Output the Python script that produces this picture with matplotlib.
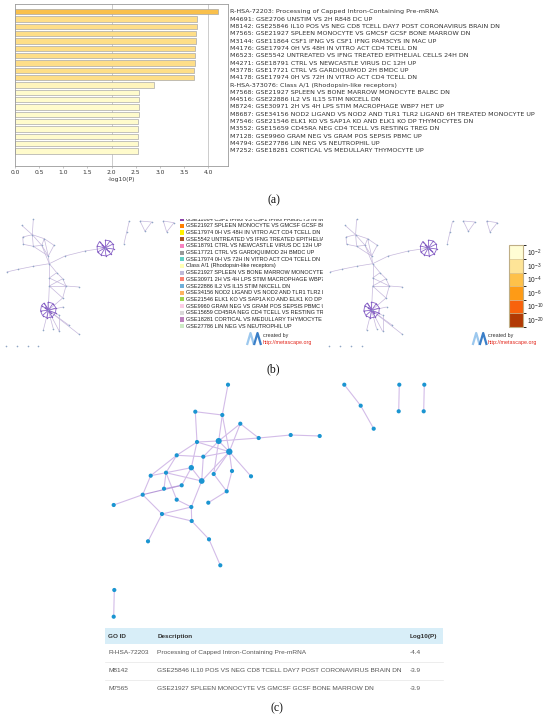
import matplotlib as mpl
import matplotlib.pyplot as plt
from matplotlib.collections import LineCollection
from matplotlib.colors import ListedColormap, BoundaryNorm
from matplotlib.patches import Rectangle
import numpy as np

plt.rcParams['mathtext.fontset'] = 'custom'
plt.rcParams['mathtext.rm'] = 'Liberation Sans'
plt.rcParams['mathtext.it'] = 'Liberation Sans:italic'
plt.rcParams['mathtext.bf'] = 'Liberation Sans:bold'

W, H = 550, 723  # figure size in pixels

# ---- (a) enriched terms ----
term_labels = [
    "R-HSA-72203: Processing of Capped Intron-Containing Pre-mRNA",
    "M4691: GSE2706 UNSTIM VS 2H R848 DC UP",
    "M8142: GSE25846 IL10 POS VS NEG CD8 TCELL DAY7 POST CORONAVIRUS BRAIN DN",
    "M7565: GSE21927 SPLEEN MONOCYTE VS GMCSF GCSF BONE MARROW DN",
    "M3144: GSE11864 CSF1 IFNG VS CSF1 IFNG PAM3CYS IN MAC UP",
    "M4176: GSE17974 0H VS 48H IN VITRO ACT CD4 TCELL DN",
    "M6523: GSE5542 UNTREATED VS IFNG TREATED EPITHELIAL CELLS 24H DN",
    "M4271: GSE18791 CTRL VS NEWCASTLE VIRUS DC 12H UP",
    "M3778: GSE17721 CTRL VS GARDIQUIMOD 2H BMDC UP",
    "M4178: GSE17974 0H VS 72H IN VITRO ACT CD4 TCELL DN",
    "R-HSA-373076: Class A/1 (Rhodopsin-like receptors)",
    "M7568: GSE21927 SPLEEN VS BONE MARROW MONOCYTE BALBC DN",
    "M4516: GSE22886 IL2 VS IL15 STIM NKCELL DN",
    "M8724: GSE30971 2H VS 4H LPS STIM MACROPHAGE WBP7 HET UP",
    "M8687: GSE34156 NOD2 LIGAND VS NOD2 AND TLR1 TLR2 LIGAND 6H TREATED MONOCYTE UP",
    "M7546: GSE21546 ELK1 KO VS SAP1A KO AND ELK1 KO DP THYMOCYTES DN",
    "M3552: GSE15659 CD45RA NEG CD4 TCELL VS RESTING TREG DN",
    "M7128: GSE9960 GRAM NEG VS GRAM POS SEPSIS PBMC UP",
    "M4794: GSE27786 LIN NEG VS NEUTROPHIL UP",
    "M7252: GSE18281 CORTICAL VS MEDULLARY THYMOCYTE UP",
]
term_values = [4.21, 3.76, 3.76, 3.75, 3.75, 3.73, 3.72, 3.72, 3.71, 3.71,
               2.87, 2.57, 2.57, 2.57, 2.56, 2.55, 2.55, 2.55, 2.55, 2.54]
term_colors = ['#F9C04C'] + ['#FEDE88'] * 9 + ['#FFF4BC'] + ['#FFFBCC'] * 9
x_ticks = [0.0, 0.5, 1.0, 1.5, 2.0, 2.5, 3.0, 3.5, 4.0]

# ---- (b) membership network (px coordinates of the layout) ----
netb_nodes = [
    (33.3, 219.3), (21.7, 225.3), (32.3, 234.7), (22.7, 237), (44.3, 238.7),
    (23.3, 244.3), (33.3, 246.3), (41.7, 245.3), (54, 245.3), (48.3, 256),
    (65, 256), (85, 251), (105, 248), (49.3, 263.7), (33.3, 266.3),
    (18.3, 269.3), (6.7, 272), (56.7, 272.7), (49.3, 278), (62.7, 278.7),
    (49.3, 286), (66, 286), (79, 287), (62.7, 298), (48.3, 310.3),
    (63.3, 307), (59.3, 315.3), (69, 325.3), (43.3, 330.3), (53.3, 328.7),
    (59.3, 331.3), (79, 334.3), (129.3, 221), (126.7, 232), (124, 243.7),
    (140, 221), (151.7, 222), (145, 231.3), (163.3, 221), (174, 222.7),
    (166.7, 232),
]
netb_edges = [
    (0, 2), (1, 2), (2, 3), (2, 4), (2, 6), (3, 5), (4, 7), (4, 8), (2, 7),
    (6, 7), (5, 6), (6, 9), (7, 9), (8, 9), (4, 9), (9, 13), (7, 13), (13, 10),
    (10, 11), (11, 12), (13, 14), (14, 15), (15, 16), (13, 17), (13, 18),
    (17, 18), (17, 19), (18, 20), (19, 20), (19, 21), (20, 21), (21, 22),
    (18, 21), (21, 23), (20, 23), (23, 24), (20, 24), (24, 25), (24, 26),
    (24, 27), (24, 28), (24, 29), (24, 30), (24, 31), (26, 30), (32, 33),
    (33, 34), (35, 36), (36, 37), (35, 37), (38, 39), (39, 40), (38, 40),
]
hub1_leaves = [(105, 240), (110, 241), (113, 244), (113.5, 249), (111, 254),
               (106, 256), (101, 255), (97.5, 252), (97, 246), (99.5, 241.5),
               (108.5, 251), (102, 245)]
hub2_leaves = [(48, 302), (53, 303.5), (56, 308), (55.5, 313), (52, 317),
               (47, 318), (42.5, 315.5), (40.5, 311), (41.5, 305.5), (44, 303),
               (51, 313), (45, 307.5)]
netb_loose = [(6, 345.5), (16.7, 345.5), (27.7, 345.5), (38.3, 345.5)]
netb_copies = [0, 323.3]

legend_labels = [
    "GSE11864 CSF1 IFNG VS CSF1 IFNG PAM3CYS IN MAC UP",
    "GSE21927 SPLEEN MONOCYTE VS GMCSF GCSF BONE MARROW DN",
    "GSE17974 0H VS 48H IN VITRO ACT CD4 TCELL DN",
    "GSE5542 UNTREATED VS IFNG TREATED EPITHELIAL CELLS 24H DN",
    "GSE18791 CTRL VS NEWCASTLE VIRUS DC 12H UP",
    "GSE17721 CTRL VS GARDIQUIMOD 2H BMDC UP",
    "GSE17974 0H VS 72H IN VITRO ACT CD4 TCELL DN",
    "Class A/1 (Rhodopsin-like receptors)",
    "GSE21927 SPLEEN VS BONE MARROW MONOCYTE BALBC DN",
    "GSE30971 2H VS 4H LPS STIM MACROPHAGE WBP7 HET UP",
    "GSE22886 IL2 VS IL15 STIM NKCELL DN",
    "GSE34156 NOD2 LIGAND VS NOD2 AND TLR1 TLR2 LIGAND 6H TREATED MONOCYTE UP",
    "GSE21546 ELK1 KO VS SAP1A KO AND ELK1 KO DP THYMOCYTES DN",
    "GSE9960 GRAM NEG VS GRAM POS SEPSIS PBMC UP",
    "GSE15659 CD45RA NEG CD4 TCELL VS RESTING TREG DN",
    "GSE18281 CORTICAL VS MEDULLARY THYMOCYTE UP",
    "GSE27786 LIN NEG VS NEUTROPHIL UP",
]
legend_colors = ['#8E44A8', '#FF7F00', '#FFF200', '#A65628', '#F781BF',
                 '#999999', '#5FD0C4', '#FFFFB3', '#BEBADA', '#FB8072',
                 '#6FAED8', '#FDB462', '#9ED34E', '#FCCDE5', '#D9D9D9',
                 '#BC80BD', '#CCEBC5']

pval_labels = ['$10^{-20}$', '$10^{-10}$', '$10^{-6}$', '$10^{-4}$', '$10^{-3}$', '$10^{-2}$']
pval_colors = ['#B23A04', '#F8620C', '#FE9B16', '#FEC14A', '#FEE497', '#FFFDD4']

# ---- (c) network of enriched terms ----
netc_nodes = [
    (228, 384.7), (195.3, 411.7), (222.3, 415), (240.3, 423.7), (197, 442),
    (218.7, 441), (258.7, 438), (290.7, 435), (319.7, 436), (229.3, 451.7),
    (176.7, 455.3), (203.3, 456.7), (191.3, 467.7), (232, 471), (150.7, 475.7),
    (166, 472.7), (213.7, 474), (251, 476.3), (201.7, 481), (181.7, 485.3),
    (164, 488.7), (226.7, 491.3), (142.7, 494.7), (176.7, 499.7), (208.3, 502.7),
    (113.7, 505), (191.3, 507), (162, 514), (191.7, 521), (148, 541.3),
    (209, 539.3), (220.3, 565.3), (114.3, 590), (113.7, 616.7),
    (344.3, 384.7), (360.7, 405.7), (373.7, 428.7),
    (399.3, 384.7), (398.7, 411.3), (424.3, 384.7), (423.7, 411.3),
]
netc_sizes = [9] * len(netc_nodes)
for k, s in [(5, 19), (9, 21), (12, 15), (18, 17)]:
    netc_sizes[k] = s
netc_edges = [
    (0, 2), (1, 2), (1, 4), (2, 5), (2, 9), (3, 6), (3, 9), (3, 5), (4, 5),
    (5, 6), (6, 7), (7, 8), (4, 10), (4, 9), (4, 12), (5, 11), (5, 9), (5, 16),
    (10, 11), (11, 9), (9, 13), (9, 16), (9, 18), (9, 17), (10, 14), (12, 15),
    (12, 18), (12, 19), (11, 18), (15, 18), (14, 22), (15, 20), (15, 23),
    (19, 20), (19, 22), (22, 25), (22, 27), (18, 26), (16, 21), (13, 21),
    (21, 24), (26, 27), (27, 28), (26, 28), (27, 29), (28, 30), (30, 31),
    (23, 26), (10, 15), (14, 15), (32, 33), (34, 35), (35, 36), (37, 38),
    (39, 40),
]

table_header = ["GO ID", "Description", "Log10(P)"]
table_ids = ["R-HSA-72203", "M8142", "M7565"]
table_desc = ["Processing of Capped Intron-Containing Pre-mRNA",
              "GSE25846 IL10 POS VS NEG CD8 TCELL DAY7 POST CORONAVIRUS BRAIN DN",
              "GSE21927 SPLEEN MONOCYTE VS GMCSF GCSF BONE MARROW DN"]
table_logp = ["-4.4", "-3.9", "-3.9"]


def px_box(x0, y0, x1, y1):
    return [x0 / W, 1 - y1 / H, (x1 - x0) / W, (y1 - y0) / H]


fig = plt.figure(figsize=(W / 100, H / 100), dpi=100)

# background canvas in pixel units
bg = fig.add_axes([0, 0, 1, 1])
bg.set_xlim(0, W)
bg.set_ylim(H, 0)
bg.axis('off')

# ---------------- (a) bar chart ----------------
ax = fig.add_axes(px_box(15, 4, 228, 166))
ypos = np.arange(len(term_values))
ax.barh(ypos, term_values, height=0.72, color=term_colors,
        edgecolor='#A9A9A9', linewidth=0.5, zorder=2)
for g in [2.0, 4.0]:
    ax.axvline(g, color='#C4C4C4', lw=0.6, zorder=1)
ax.set_ylim(21.05, -1.05)
ax.set_xlim(0, 4.41)
ax.set_yticks([])
ax.set_xticks(x_ticks)
ax.set_xticklabels([f"{t:.1f}" for t in x_ticks])
ax.tick_params(axis='x', labelsize=4.3, length=1.5, width=0.4, pad=1.5,
               color='#999999', labelcolor='#333333')
ax.set_xlabel("-log10(P)", fontsize=4.3, labelpad=1, color='#333333')
for sp in ax.spines.values():
    sp.set_color('#9A9A9A')
    sp.set_linewidth(0.6)
for i, lab in enumerate(term_labels):
    ax.text(1.01, i, lab, transform=ax.get_yaxis_transform(), fontsize=4.6,
            ha='left', va='center', color='#333333', clip_on=False)

bg.text(274, 200, "(a)", family='Liberation Serif', fontsize=8.5,
        ha='center', va='center', color='#111111')

# ---------------- (b) networks ----------------
for dx in netb_copies:
    pts = np.array(netb_nodes) + [dx, 0]
    segs = [[pts[a], pts[b]] for a, b in netb_edges]
    bg.add_collection(LineCollection(segs, colors='#C6B8DC', linewidths=0.5, zorder=2))
    spokes = []
    for hub, leaves in [(netb_nodes[12], hub1_leaves), (netb_nodes[24], hub2_leaves)]:
        hx, hy = hub[0] + dx, hub[1]
        lv = np.array(leaves) + [dx, 0]
        spokes += [[(hx, hy), tuple(p)] for p in lv]
        for j in range(len(lv) - 1):
            spokes.append([tuple(lv[j]), tuple(lv[j + 1])])
        bg.scatter(lv[:, 0], lv[:, 1], s=1.0, color='#7F5BBF', zorder=4, linewidths=0)
    bg.add_collection(LineCollection(spokes, colors='#8A63C8', linewidths=0.6, zorder=3))
    bg.scatter(pts[:, 0], pts[:, 1], s=1.4, color='#8FA6C6', zorder=4, linewidths=0)
    lp = np.array(netb_loose) + [dx, 0]
    bg.scatter(lp[:, 0], lp[:, 1], s=1.4, color='#8FA6C6', zorder=4, linewidths=0)

# legend with clipped entries
leg = fig.add_axes(px_box(178, 219, 323, 336))
leg.set_xlim(178, 323)
leg.set_ylim(336, 219)
leg.axis('off')
for i, (lab, col) in enumerate(zip(legend_labels, legend_colors)):
    yy = 219.3 + 6.67 * i
    leg.add_patch(Rectangle((180, yy - 2.15), 4.3, 4.3, facecolor=col,
                            edgecolor='none', clip_on=True))
    leg.text(186, yy, lab, fontsize=4.0, family='Liberation Sans',
             ha='left', va='center', color='#222222', clip_on=True)

# colour scale
cax = fig.add_axes(px_box(509, 245.3, 522.7, 327))
cmap = ListedColormap(pval_colors)
norm = BoundaryNorm(np.arange(len(pval_colors) + 1), len(pval_colors))
cb = fig.colorbar(mpl.cm.ScalarMappable(norm=norm, cmap=cmap), cax=cax,
                  ticks=np.arange(len(pval_colors)) + 0.5, drawedges=True)
cb.ax.set_yticklabels(pval_labels)
cb.ax.tick_params(length=0, pad=3, labelsize=4.8, labelcolor='#222222')
cb.outline.set_edgecolor('#BFAE86')
cb.outline.set_linewidth(0.8)
cb.dividers.set_color('#D8C9A0')
cb.dividers.set_linewidth(0.5)

# metascape credits
for lx, tx in [(247, 263), (472.7, 487.7)]:
    bg.plot([lx, lx + 3.5, lx + 7], [345, 333, 345], color='#9CC8EE', lw=1.6,
            solid_capstyle='butt')
    bg.plot([lx + 7, lx + 10.5, lx + 14], [345, 333, 345], color='#3A7FC8', lw=1.6,
            solid_capstyle='butt')
    bg.text(tx, 335, "created by", fontsize=3.9, family='Liberation Sans',
            ha='left', va='center', color='#333333')
    bg.text(tx, 342.3, "http://metascape.org", fontsize=3.9, family='Liberation Sans',
            ha='left', va='center', color='#E3261B')

bg.text(273, 369, "(b)", family='Liberation Serif', fontsize=8.5,
        ha='center', va='center', color='#111111')

# ---------------- (c) network + table ----------------
cpts = np.array(netc_nodes)
csegs = [[cpts[a], cpts[b]] for a, b in netc_edges]
ecol = ['#B79AD8' if (a, b) == (19, 22) else '#D3BCE8' for a, b in netc_edges]
bg.add_collection(LineCollection(csegs, colors=ecol, linewidths=0.8, zorder=2))
bg.scatter(cpts[:, 0], cpts[:, 1], s=netc_sizes, color='#1B95D1', zorder=3,
           linewidths=0)

bg.add_patch(Rectangle((105, 628.3), 338, 16, facecolor='#D8EEF8',
                       edgecolor='none', zorder=1))
col_x = [108.3, 157.3, 410]
for cx, head in zip(col_x, table_header):
    bg.text(cx, 636.3, head, fontsize=4.6, family='Liberation Sans',
            fontweight='bold', ha='left', va='center', color='#333333')
row_y = [652.7, 670.7, 688.3]
for yy in [661.7, 680]:
    bg.plot([105, 443], [yy, yy], color='#E6E6E6', lw=0.5)
for yy, gid, desc, lp in zip(row_y, table_ids, table_desc, table_logp):
    for cx, val in zip(col_x, [gid, desc, lp]):
        bg.text(cx, yy, val, fontsize=4.65, family='Liberation Sans',
                ha='left', va='center', color='#555555')

bg.text(277, 708.3, "(c)", family='Liberation Serif', fontsize=8.5,
        ha='center', va='center', color='#111111')

fig.savefig("out.png", dpi=100)
